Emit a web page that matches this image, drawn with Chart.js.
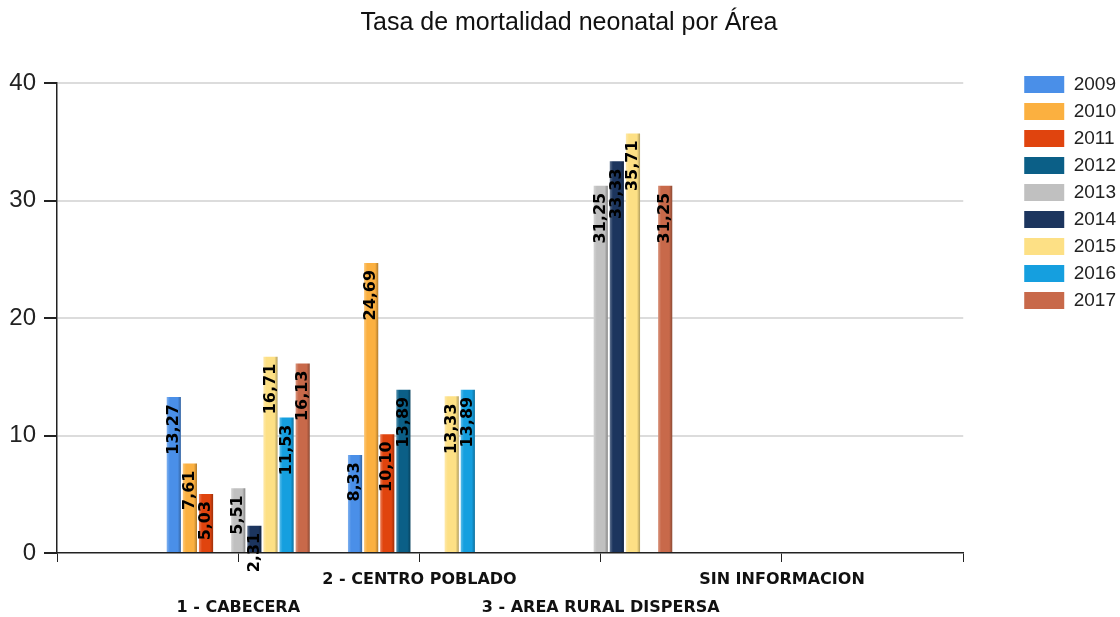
<!DOCTYPE html>
<html>
<head>
<meta charset="utf-8">
<script src="https://cdn.jsdelivr.net/npm/chart.js@4"></script>
<style>
  html, body { margin: 0; padding: 0; background: #fff; }
  #wrap { width: 1120px; height: 617px; }
</style>
</head>
<body>
<div id="wrap"><canvas id="myChart" width="1120" height="617"></canvas></div>
<script>
const categories = ['1 - CABECERA', '2 - CENTRO POBLADO', '3 - AREA RURAL DISPERSA', 'SIN INFORMACION'];
const years = ['2009', '2010', '2011', '2012', '2013', '2014', '2015', '2016', '2017'];

const y2009 = [13.27, 8.33, null, null];
const y2010 = [7.61, 24.69, null, null];
const y2011 = [5.03, 10.10, null, null];
const y2012 = [null, 13.89, null, null];
const y2013 = [5.51, null, 31.25, null];
const y2014 = [2.31, null, 33.33, null];
const y2015 = [16.71, 13.33, 35.71, null];
const y2016 = [11.53, 13.89, null, null];
const y2017 = [16.13, null, 31.25, null];

const yTicks = [0, 10, 20, 30, 40];

const colors = ['#4a8fe8', '#fbb040', '#e0440e', '#0b5f87', '#c0c0c0', '#1c355e', '#fde085', '#159fdf', '#c8694a'];

const series = [y2009, y2010, y2011, y2012, y2013, y2014, y2015, y2016, y2017];

// blank slot at each end so the groups sit on the inner ticks
const pad = (arr) => [null, ...arr, null];

const shade = (hex, amt) => {
    const n = parseInt(hex.slice(1), 16);
    let r = n >> 16, g = (n >> 8) & 255, b = n & 255;
    const t = amt < 0 ? 0 : 255, p = Math.abs(amt);
    r = Math.round(r + (t - r) * p);
    g = Math.round(g + (t - g) * p);
    b = Math.round(b + (t - b) * p);
    return `rgb(${r}, ${g}, ${b})`;
}

// give each bar a slight cylinder look
const barShading = {
    id: 'barShading',
    beforeDatasetsDraw(chart) {
        const ctx = chart.ctx;
        chart.data.datasets.forEach((ds, i) => {
            const meta = chart.getDatasetMeta(i);
            meta.data.forEach((bar) => {
                if (bar.skip || !bar.width) return;
                const x0 = bar.x - bar.width / 2;
                const g = ctx.createLinearGradient(x0, 0, x0 + bar.width, 0);
                g.addColorStop(0, shade(ds.baseColor, 0.3));
                g.addColorStop(0.22, ds.baseColor);
                g.addColorStop(0.78, ds.baseColor);
                g.addColorStop(1, shade(ds.baseColor, -0.3));
                // options are shared between bars, so give each its own copy
                bar.options = Object.assign({}, bar.options, { backgroundColor: g });
            });
        });
    }
}

// vertical value labels hanging from the top of each bar
const valueLabels = {
    id: 'valueLabels',
    afterDatasetsDraw(chart) {
        const ctx = chart.ctx;
        ctx.save();
        ctx.font = 'bold 16px "DejaVu Sans", Verdana, sans-serif';
        ctx.fillStyle = '#000';
        ctx.textAlign = 'right';
        ctx.textBaseline = 'middle';
        chart.data.datasets.forEach((ds, i) => {
            const meta = chart.getDatasetMeta(i);
            meta.data.forEach((bar, j) => {
                const v = ds.data[j];
                if (v === null || v === undefined) return;
                const txt = v.toFixed(2).replace('.', ',');
                ctx.save();
                ctx.translate(bar.x, bar.y + 7);
                ctx.rotate(-Math.PI / 2);
                ctx.fillText(txt, 0, 0);
                ctx.restore();
            });
        });
        ctx.restore();
    }
}

// legend out at the right edge starting a bit above the plot top,
// title centred a little right of the canvas middle
const boxPlacement = {
    id: 'boxPlacement',
    afterLayout(chart) {
        const area = chart.chartArea;
        const lg = chart.legend;
        if (lg) {
            const dx = area.right + 53 - lg.left;
            const dy = area.top - 16 - lg.top;
            lg.left += dx; lg.right += dx;
            lg.top += dy; lg.bottom += dy;
        }
        const tb = chart.titleBlock;
        if (tb) {
            const tx = 569 - (tb.left + tb.right) / 2;
            tb.left += tx; tb.right += tx;
        }
    }
}

const main = () => {
    const data = {
        labels: ['', ...categories, ''],
        datasets: years.map((yr, i) => ({
            label: yr,
            data: pad(series[i]),
            baseColor: colors[i],
            backgroundColor: colors[i],
            borderWidth: 0,
            categoryPercentage: 0.8,
            barPercentage: 0.88
        }))
    };

    const sans = '"Liberation Sans", Arial, sans-serif';
    const bold = '"DejaVu Sans", Verdana, sans-serif';

    const config = {
        type: 'bar',
        data: data,
        plugins: [barShading, valueLabels, boxPlacement],
        options: {
            responsive: false,
            animation: false,
            layout: { padding: { left: 0, right: 47, top: 0, bottom: 0 } },
            plugins: {
                title: {
                    display: true,
                    text: 'Tasa de mortalidad neonatal por Área',
                    color: '#111',
                    font: { family: sans, size: 25, weight: 'normal' },
                    padding: { top: 8, bottom: 45 }
                },
                legend: {
                    position: 'right',
                    align: 'start',
                    fullSize: false,
                    labels: {
                        boxWidth: 40,
                        boxHeight: 17,
                        padding: 8,
                        color: '#222',
                        font: { family: sans, size: 19 }
                    }
                },
                tooltip: { enabled: false }
            },
            scales: {
                x: {
                    offset: false,
                    grid: {
                        display: true,
                        offset: false,
                        drawOnChartArea: false,
                        tickLength: 9,
                        tickColor: '#222'
                    },
                    border: { color: '#222', width: 1.5 },
                    ticks: {
                        autoSkip: false,
                        maxRotation: 0,
                        minRotation: 0,
                        color: '#111',
                        padding: 4,
                        font: { family: bold, size: 16, weight: 'bold', lineHeight: 1.75 },
                        // alternate rows so the long names don't collide
                        callback: (val, idx) => {
                            const name = data.labels[idx];
                            if (!name) return '';
                            return idx % 2 === 1 ? ['', name] : name;
                        }
                    },
                    afterFit: (scale) => { scale.height = 64; }
                },
                y: {
                    min: yTicks[0],
                    max: yTicks[yTicks.length - 1],
                    afterBuildTicks: (scale) => { scale.ticks = yTicks.map((v) => ({ value: v })); },
                    grid: {
                        color: (c) => c.tick.value === 0 ? 'rgba(0,0,0,0)' : '#dcdcdc',
                        lineWidth: 2,
                        tickLength: 13,
                        tickColor: '#222'
                    },
                    border: { color: '#222', width: 1.5 },
                    ticks: {
                        color: '#222',
                        padding: 8,
                        font: { family: sans, size: 24 }
                    },
                    afterFit: (scale) => { scale.width = 57; }
                }
            }
        }
    };

    new Chart(document.getElementById('myChart'), config);
}

window.onload = () => main()
</script>
</body>
</html>
